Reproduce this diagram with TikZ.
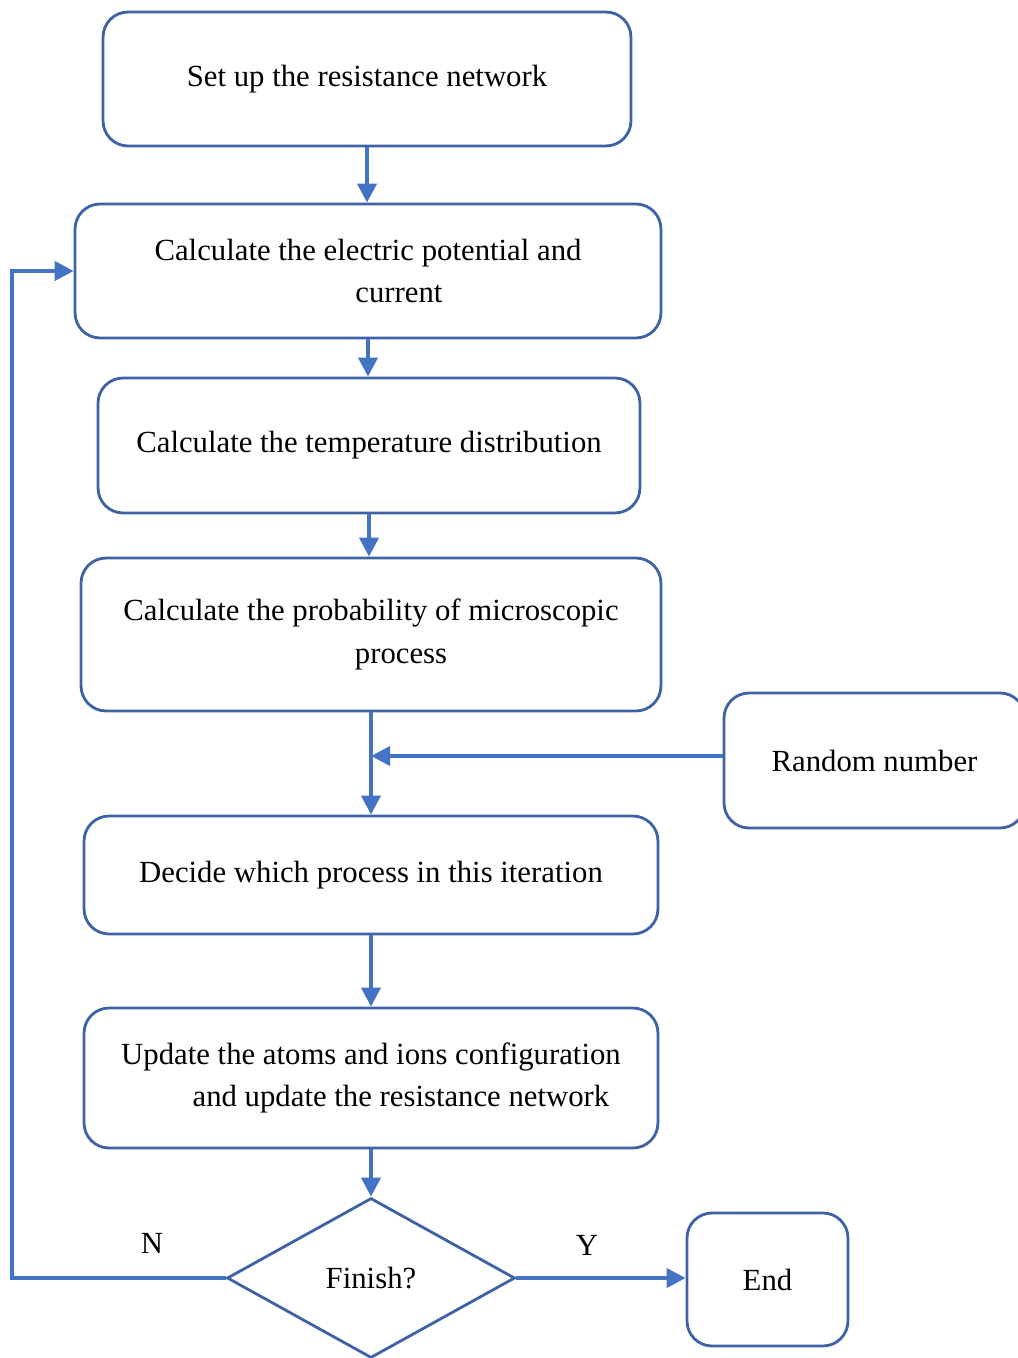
\documentclass[tikz,border=0pt]{standalone}
\usepackage{fontspec}
\setmainfont{Liberation Serif}
\usetikzlibrary{arrows.meta,shapes.geometric}
\definecolor{boxblue}{RGB}{62,98,166}
\definecolor{arrowblue}{RGB}{68,114,196}
\tikzset{
  box/.style={draw=boxblue, line width=1.6pt, rounded corners=0.5cm, align=center,
    font=\fontsize{17.5}{24}\selectfont},
  arr/.style={draw=arrowblue, line width=2.3pt, -{Triangle[length=0.38cm,width=0.38cm]}},
  lbl/.style={font=\fontsize{17.5}{24}\selectfont}
}
\begin{document}
\begin{tikzpicture}[x=0.02cm,y=-0.02cm]
\useasboundingbox (0,0) rectangle (1017,1358);
\node[box, minimum width=10.56cm, minimum height=2.68cm] (setup) at (367,79) {Set up the resistance network};
\node[box, minimum width=11.72cm, minimum height=2.68cm] (calc) at (368,271) {Calculate the electric potential and\\\hspace*{1.24cm}current};
\node[box, minimum width=10.84cm, minimum height=2.7cm] (temp) at (369,445.5) {Calculate the temperature distribution};
\node[box, minimum width=11.6cm, minimum height=3.06cm] (prob) at (371,634.5) {Calculate the probability of microscopic\\\hspace*{1.2cm}process};
\node[box, minimum width=6.02cm, minimum height=2.7cm] (rand) at (874.5,760.5) {Random number};
\node[box, minimum width=11.48cm, minimum height=2.36cm] (decide) at (371,875) {Decide which process in this iteration};
\node[box, minimum width=11.48cm, minimum height=2.8cm] (update) at (371,1078) {Update the atoms and ions configuration\\\hspace*{1.2cm}and update the resistance network};
\node[box, shape=diamond, rounded corners=0pt, inner sep=0pt, minimum width=5.76cm, minimum height=3.2cm] (fin) at (371,1278) {Finish?};
\node[box, minimum width=3.22cm, minimum height=2.66cm] (done) at (767.5,1279.5) {End};
\coordinate (join) at (371,756);
\coordinate (loop) at (12,1278);
\draw[arr] (setup.south) -- (setup.south |- calc.north);
\draw[arr] (calc.south) -- (calc.south |- temp.north);
\draw[arr] (temp.south) -- (temp.south |- prob.north);
\draw[arr] (prob.south) -- (decide.north);
\draw[arr] (join -| rand.west) -- (join);
\draw[arr] (decide.south) -- (update.north);
\draw[arr] (update.south) -- (fin.north);
\draw[arr] (fin.west) -- (loop) |- (calc.west);
\draw[arr] (fin.east) -- (fin.east -| done.west);
\node[lbl] (nlbl) at (152,1243) {N};
\node[lbl] (ylbl) at (587,1245) {Y};
\end{tikzpicture}
\end{document}
